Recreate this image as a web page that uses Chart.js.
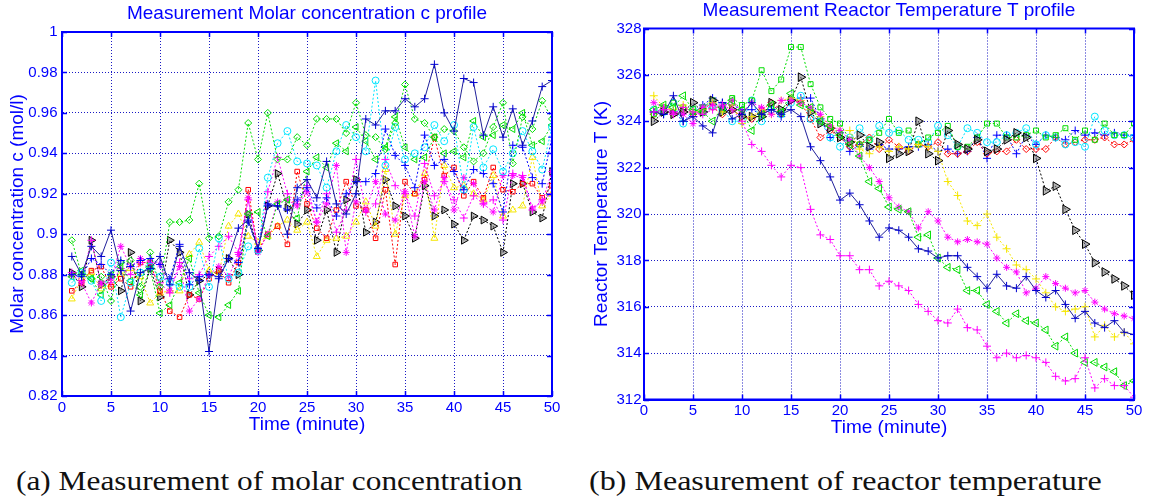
<!DOCTYPE html>
<html><head><meta charset="utf-8">
<script src="https://cdn.jsdelivr.net/npm/chart.js@4.4.1/dist/chart.umd.min.js"></script>
<style>
html,body{margin:0;padding:0;background:#fff;width:1151px;height:502px;overflow:hidden;position:relative;font-family:"Liberation Sans",Arial,sans-serif}
canvas{position:absolute;top:0}
#cA{left:0}
#cB{left:580px}
.ttl{position:absolute;color:#0000ff;font-size:19px;white-space:nowrap;transform:translateX(-50%);line-height:22px}
.cap{position:absolute;font-family:"Liberation Serif","Times New Roman",serif;font-size:27px;white-space:nowrap;transform-origin:0 0;color:#111;line-height:32px}
</style></head><body>
<canvas id="cA" width="580" height="440"></canvas>
<canvas id="cB" width="571" height="440"></canvas>
<div class="ttl" id="tA" style="left:307px;top:2px">Measurement Molar concentration c profile</div>
<div class="ttl" id="tB" style="left:889px;top:-1px">Measurement Reactor Temperature T profile</div>
<div class="cap" id="capA" style="left:16px;top:465px">(a) Measurement of molar concentration</div>
<div class="cap" id="capB" style="left:589px;top:465px">(b) Measurement of reactor temperature</div>
<script>
// ---------- categories / ticks ----------
const timeMinutes = [1,2,3,4,5,6,7,8,9,10,11,12,13,14,15,16,17,18,19,20,21,22,23,24,25,26,27,28,29,30,31,32,33,34,35,36,37,38,39,40,41,42,43,44,45,46,47,48,49,50];
const timeTicks = [0,5,10,15,20,25,30,35,40,45,50];
const concTicks = [0.82,0.84,0.86,0.88,0.90,0.92,0.94,0.96,0.98,1.0];
const concTickLabels = ['0.82','0.84','0.86','0.88','0.9','0.92','0.94','0.96','0.98','1'];
const tempTicks = [312,314,316,318,320,322,324,326,328];
const tempTickLabels = ['312','314','316','318','320','322','324','326','328'];

// ---------- (a) molar concentration (mol/l) ----------
const concBluePlusA = [0.889,0.880,0.894,0.889,0.902,0.882,0.862,0.881,0.883,0.889,0.875,0.894,0.881,0.877,0.842,0.878,0.888,0.903,0.907,0.893,0.914,0.914,0.900,0.923,0.927,0.918,0.936,0.915,0.910,0.920,0.957,0.954,0.961,0.961,0.967,0.963,0.967,0.984,0.960,0.951,0.977,0.975,0.949,0.963,0.948,0.962,0.944,0.956,0.973,0.976];
const concBluePlusB = [0.880,0.879,0.888,0.885,0.880,0.887,0.884,0.887,0.888,0.885,0.878,0.895,0.875,0.879,0.880,0.879,0.888,0.886,0.906,0.893,0.915,0.914,0.912,0.917,0.923,0.913,0.918,0.909,0.920,0.926,0.926,0.930,0.952,0.939,0.934,0.923,0.949,0.934,0.937,0.931,0.922,0.932,0.930,0.925,0.911,0.944,0.943,0.928,0.925,0.948];
const concGreenDiamond = [0.897,0.880,0.878,0.879,0.867,0.886,0.887,0.874,0.891,0.874,0.906,0.906,0.907,0.925,0.898,0.899,0.916,0.922,0.955,0.937,0.960,0.937,0.937,0.948,0.944,0.957,0.957,0.957,0.950,0.965,0.949,0.948,0.942,0.955,0.974,0.957,0.955,0.948,0.952,0.951,0.943,0.936,0.940,0.953,0.965,0.935,0.958,0.952,0.966,0.957];
const concCyanCircle = [0.876,0.881,0.877,0.867,0.886,0.859,0.876,0.881,0.884,0.879,0.876,0.874,0.874,0.893,0.874,0.898,0.878,0.881,0.894,0.892,0.928,0.945,0.951,0.936,0.935,0.934,0.923,0.941,0.954,0.948,0.941,0.976,0.934,0.953,0.937,0.940,0.943,0.954,0.946,0.954,0.922,0.953,0.933,0.942,0.931,0.940,0.951,0.941,0.932,0.953];
const concGreenLeftTri = [0.879,0.882,0.878,0.870,0.880,0.884,0.877,0.870,0.883,0.861,0.865,0.876,0.888,0.871,0.860,0.859,0.865,0.872,0.910,0.911,0.899,0.915,0.917,0.908,0.931,0.938,0.933,0.945,0.941,0.953,0.946,0.937,0.943,0.958,0.943,0.937,0.938,0.948,0.940,0.941,0.938,0.956,0.948,0.949,0.954,0.952,0.960,0.944,0.946,0.954];
const concMagentaPlus = [0.881,0.877,0.897,0.875,0.876,0.883,0.880,0.886,0.883,0.876,0.871,0.886,0.878,0.880,0.889,0.894,0.899,0.891,0.917,0.893,0.921,0.938,0.920,0.915,0.924,0.906,0.920,0.901,0.912,0.937,0.911,0.915,0.937,0.924,0.920,0.909,0.935,0.919,0.926,0.917,0.908,0.919,0.915,0.917,0.907,0.930,0.929,0.912,0.917,0.920];
const concMagentaStar = [0.880,0.876,0.866,0.876,0.878,0.894,0.884,0.888,0.886,0.885,0.872,0.884,0.862,0.868,0.880,0.884,0.879,0.890,0.918,0.891,0.900,0.916,0.917,0.914,0.921,0.906,0.915,0.934,0.891,0.916,0.912,0.926,0.910,0.907,0.921,0.899,0.926,0.912,0.928,0.912,0.928,0.925,0.915,0.911,0.929,0.929,0.928,0.913,0.916,0.931];
const concRedSquare = [0.872,0.876,0.882,0.884,0.874,0.878,0.874,0.886,0.886,0.872,0.862,0.859,0.870,0.868,0.878,0.882,0.876,0.886,0.922,0.892,0.900,0.904,0.895,0.931,0.915,0.903,0.898,0.912,0.926,0.914,0.912,0.898,0.922,0.885,0.926,0.920,0.927,0.948,0.929,0.933,0.919,0.926,0.918,0.933,0.922,0.921,0.925,0.925,0.918,0.924];
const concYellowTri = [0.868,0.878,0.881,0.873,0.875,0.880,0.883,0.879,0.866,0.871,0.872,0.872,0.890,0.896,0.882,0.880,0.904,0.910,0.899,0.896,0.899,0.904,0.907,0.902,0.906,0.889,0.897,0.898,0.899,0.906,0.916,0.904,0.932,0.900,0.919,0.920,0.930,0.898,0.934,0.923,0.924,0.920,0.917,0.929,0.909,0.912,0.914,0.938,0.914,0.920];
const concBlackRightTri = [0.881,0.874,0.897,0.875,0.879,0.872,0.891,0.867,0.883,0.869,0.897,0.891,0.870,0.877,0.880,0.882,0.888,0.880,0.910,0.892,0.914,0.930,0.913,0.905,0.912,0.897,0.912,0.891,0.917,0.927,0.901,0.906,0.927,0.914,0.909,0.898,0.924,0.909,0.912,0.905,0.897,0.909,0.907,0.904,0.891,0.925,0.925,0.911,0.908,0.931];

// ---------- (b) reactor temperature (K) ----------
const tempMagentaPlus = [324.4,324.5,324.3,324.6,324.4,324.3,324.5,324.7,324.5,324.0,323.0,322.7,322.1,321.6,322.1,322.0,320.2,319.1,318.9,318.2,318.2,317.6,317.6,316.9,317.1,316.9,316.7,316.1,315.8,315.4,315.3,315.9,315.1,315.0,314.3,313.8,314.0,313.8,313.9,313.8,313.6,313.0,312.8,312.9,313.8,312.5,312.9,312.6,312.6,312.1];
const tempBluePlusA = [324.4,324.3,325.1,324.0,324.2,323.8,323.5,324.8,324.1,324.3,324.8,324.3,324.5,324.3,324.5,324.2,322.9,322.3,321.6,320.6,320.9,320.4,319.7,319.0,319.4,319.3,319.0,318.5,318.4,318.1,318.2,318.2,317.7,317.3,316.8,317.4,316.9,316.8,317.3,316.7,316.4,316.7,316.1,315.5,315.8,315.3,315.1,315.4,314.9,314.8];
const tempGreenLeftTri = [324.5,324.7,324.6,325.1,324.5,324.4,324.0,324.6,324.9,324.5,323.6,324.3,324.7,324.4,325.2,324.7,324.6,324.0,323.8,323.4,323.0,322.5,321.4,321.1,320.3,320.2,320.1,319.0,319.1,318.1,317.7,317.6,316.7,316.7,316.1,315.8,315.3,315.7,315.4,315.3,315.0,314.3,314.7,314.0,313.6,313.6,313.4,313.2,312.6,312.8];
const tempMagentaStar = [324.8,324.6,324.4,324.3,323.9,324.6,324.7,324.6,324.9,324.4,324.8,324.6,324.3,324.9,324.9,324.8,324.6,324.3,323.8,323.6,323.2,322.5,322.0,321.4,320.7,320.3,320.1,319.4,320.1,319.7,319.0,318.8,318.9,318.8,318.7,318.1,317.7,317.5,316.6,316.8,317.3,317.0,316.8,316.6,316.7,316.2,315.9,315.7,315.6,315.5];
const tempYellowPlus = [325.1,324.6,324.5,324.7,324.4,324.5,324.8,324.4,324.7,323.9,324.2,324.5,324.3,324.9,325.0,324.9,324.5,324.2,323.8,323.6,323.6,322.8,322.6,322.9,322.7,322.9,322.8,323.0,322.9,322.7,321.4,320.8,319.7,319.5,320.0,319.0,318.5,317.8,317.6,317.2,316.6,316.0,315.8,315.9,316.0,314.7,315.2,314.7,314.9,314.4];
const tempBlackRightTri = [324.0,324.4,324.3,324.4,324.8,324.4,324.9,324.4,324.5,324.2,324.2,324.2,324.8,324.5,324.9,325.9,324.4,323.9,323.7,323.3,323.1,323.4,322.9,323.1,322.4,322.6,322.7,324.0,322.6,322.3,323.6,323.0,322.8,323.2,322.7,322.8,323.2,323.5,323.3,322.4,321.0,321.2,320.2,319.3,318.7,317.9,317.5,317.2,316.9,316.5];
const tempGreenSquare = [324.3,324.6,324.8,324.6,324.4,324.6,324.9,324.5,325.0,324.7,324.9,326.2,325.3,325.8,327.2,327.2,325.6,324.6,324.1,323.9,323.2,323.0,323.2,323.5,324.1,323.5,323.6,323.0,323.3,323.5,323.8,322.9,322.9,323.3,323.9,323.9,323.3,323.3,323.4,323.6,323.3,323.4,323.7,323.2,323.6,323.2,323.9,323.4,323.4,323.9];
const tempCyanCircle = [324.5,324.4,324.8,323.9,324.5,324.4,324.7,324.5,324.0,324.0,324.9,324.0,324.5,324.3,324.8,325.1,324.1,324.0,323.3,322.9,323.3,323.7,323.2,323.8,323.5,323.6,323.2,323.2,323.1,323.8,323.4,322.9,323.7,323.5,323.1,323.1,323.4,323.5,323.7,323.0,323.4,323.3,323.0,323.1,322.9,324.2,323.6,323.4,323.4,323.3];
const tempRedDiamond = [324.3,324.5,324.3,324.5,324.3,324.5,324.6,324.3,324.5,324.2,324.1,324.5,324.8,324.3,324.9,324.8,324.1,323.3,323.6,323.3,322.9,323.0,323.3,322.8,323.2,322.9,322.7,323.0,322.9,323.1,322.6,322.6,322.7,323.1,322.6,322.7,322.7,323.2,322.8,322.8,322.8,323.3,323.0,323.1,323.2,323.2,323.3,323.0,323.0,323.2];
const tempBluePlusB = [324.4,324.3,324.4,324.0,324.3,324.7,325.0,324.8,324.7,324.5,324.5,324.3,324.5,324.2,324.9,325.0,325.0,324.1,323.3,323.5,322.7,323.0,322.8,323.0,322.8,322.8,322.9,322.9,323.0,322.7,322.8,322.6,322.7,323.3,322.4,323.4,323.4,322.6,323.4,323.0,323.4,323.3,323.2,323.6,323.4,323.5,323.4,323.5,323.4,323.4];

// ---------- helpers ----------
const BLUE = '#0000ff';
function series(values, color, style, opts) {
  opts = opts || {};
  return {
    data: values.map((v, i) => ({x: timeMinutes[i], y: v})),
    borderColor: opts.line || color,
    borderWidth: 1,
    borderDash: opts.solid ? [] : [2, 2],
    pointStyle: style,
    pointRotation: opts.rot || 0,
    pointRadius: opts.r || 3.5,
    pointBorderColor: color,
    pointBackgroundColor: opts.fill || 'rgba(0,0,0,0)',
    pointBorderWidth: 1,
    tension: 0,
    fill: false
  };
}

const framePlugin = {
  id: 'frame',
  afterDraw(chart) {
    const {ctx, chartArea: a, scales: {x, y}} = chart;
    ctx.save();
    ctx.strokeStyle = BLUE;
    ctx.lineWidth = 1.5;
    ctx.beginPath();
    x.ticks.forEach(t => {
      const p = Math.round(x.getPixelForValue(t.value)) + 0.5;
      ctx.moveTo(p, a.bottom); ctx.lineTo(p, a.bottom - 5);
      ctx.moveTo(p, a.top); ctx.lineTo(p, a.top + 5);
    });
    y.ticks.forEach(t => {
      const p = Math.round(y.getPixelForValue(t.value)) + 0.5;
      ctx.moveTo(a.left, p); ctx.lineTo(a.left + 5, p);
      ctx.moveTo(a.right, p); ctx.lineTo(a.right - 5, p);
    });
    ctx.stroke();
    ctx.lineWidth = 2;
    ctx.strokeRect(a.left, a.top, a.right - a.left, a.bottom - a.top);
    ctx.restore();
  }
};

Chart.defaults.font.family = '"Liberation Sans", Arial, sans-serif';
Chart.defaults.color = BLUE;

function makeChart(id, datasets, yTicks, yLabels, yTitle, lay) {
  return new Chart(document.getElementById(id), {
    type: 'line',
    data: {datasets},
    options: {
      responsive: false,
      animation: false,
      devicePixelRatio: 1,
      layout: {padding: {top: lay.top, right: lay.right, left: 0, bottom: 0}},
      plugins: {legend: {display: false}, tooltip: {enabled: false}, title: {display: false}},
      scales: {
        x: {
          type: 'linear', min: 0, max: 50,
          afterBuildTicks: s => { s.ticks = timeTicks.map(v => ({value: v})); },
          afterFit: s => { s.height = lay.xh; },
          ticks: {color: BLUE, font: {size: 15}, padding: lay.xpad, autoSkip: false, maxRotation: 0,
                  callback: v => String(v)},
          grid: {color: 'rgba(0,0,190,0.9)', lineWidth: 1, drawTicks: false},
          border: {display: true, color: BLUE, width: 2, dash: [1, 2]},
          title: {display: true, text: 'Time (minute)', color: BLUE, font: {size: 19}, padding: {top: 0, bottom: lay.xtp}}
        },
        y: {
          type: 'linear', min: yTicks[0], max: yTicks[yTicks.length - 1],
          afterBuildTicks: s => { s.ticks = yTicks.map(v => ({value: v})); },
          afterFit: s => { s.width = lay.yw; },
          ticks: {color: BLUE, font: {size: 15}, padding: lay.ypad, autoSkip: false,
                  callback: (v, i) => yLabels[i]},
          grid: {color: 'rgba(0,0,190,0.9)', lineWidth: 1, drawTicks: false},
          border: {display: true, color: BLUE, width: 2, dash: [1, 2]},
          title: {display: true, text: yTitle, color: BLUE, font: {size: 19}, padding: {top: lay.ytp, bottom: 0}}
        }
      }
    },
    plugins: [framePlugin]
  });
}

const datasetsA = [
  series(concBluePlusA, '#0000d0', 'cross', {solid: true, line: '#20209a', r: 4}),
  series(concBluePlusB, '#0000ff', 'cross', {r: 4}),
  series(concGreenDiamond, '#00dd00', 'rectRot'),
  series(concCyanCircle, '#00e5ff', 'circle'),
  series(concGreenLeftTri, '#00dd00', 'triangle', {rot: -90, r: 4}),
  series(concMagentaPlus, '#ff00ff', 'cross', {r: 4}),
  series(concMagentaStar, '#ff00ff', 'star', {r: 3.5}),
  series(concRedSquare, '#ff0000', 'rect', {r: 3.2}),
  series(concYellowTri, '#f5e600', 'triangle', {r: 4}),
  series(concBlackRightTri, '#000000', 'triangle', {rot: 90, r: 4.5, fill: 'rgba(120,120,120,0.55)'})
];

const datasetsB = [
  series(tempMagentaPlus, '#ff00ff', 'cross', {r: 4}),
  series(tempBluePlusA, '#0000d0', 'cross', {line: '#20209a', solid: true, r: 4}),
  series(tempGreenLeftTri, '#00dd00', 'triangle', {rot: -90, r: 4.5}),
  series(tempMagentaStar, '#ff00ff', 'star', {r: 3.5}),
  series(tempYellowPlus, '#f5e600', 'cross', {r: 4}),
  series(tempBlackRightTri, '#000000', 'triangle', {rot: 90, r: 5, fill: 'rgba(120,120,120,0.55)'}),
  series(tempGreenSquare, '#00dd00', 'rect', {r: 3.5}),
  series(tempCyanCircle, '#00e5ff', 'circle'),
  series(tempRedDiamond, '#ff0000', 'rectRot'),
  series(tempBluePlusB, '#0000ff', 'cross', {r: 4})
];

makeChart('cA', datasetsA, concTicks, concTickLabels, 'Molar concentration c (mol/l)',
  {top: 32, right: 28, xh: 44, yw: 62, xpad: 2.5, ypad: 4.5, xtp: 3.6, ytp: 6.6});
makeChart('cB', datasetsB, tempTicks, tempTickLabels, 'Reactor Temperature T (K)',
  {top: 28.5, right: 17, xh: 40.5, yw: 64, xpad: 2.5, ypad: 2.5, xtp: 0.6, ytp: 10.5});

// fit captions to their width in the reference
[['capA', 506], ['capB', 513]].forEach(([id, w]) => {
  const el = document.getElementById(id);
  el.style.transform = 'scaleX(' + (w / el.offsetWidth) + ')';
});
</script>
</body></html>
